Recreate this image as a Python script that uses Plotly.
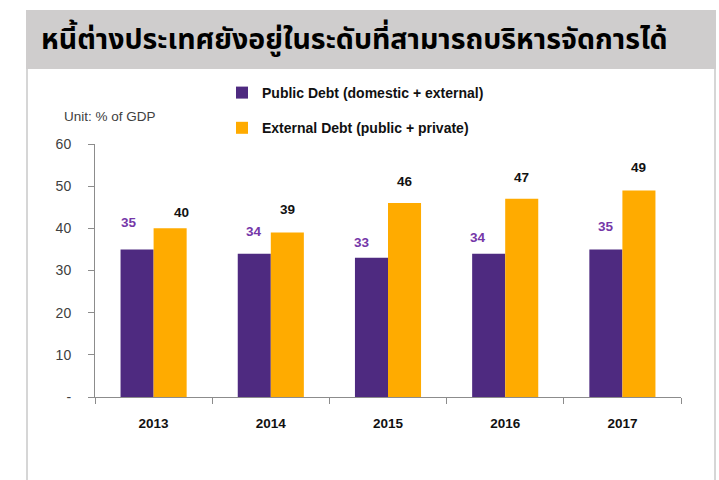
import plotly.graph_objects as go

# Debt levels, % of GDP
years = ["2013", "2014", "2015", "2016", "2017"]
public_debt = [35, 34, 33, 34, 35]
external_debt = [40, 39, 46, 47, 49]

y_tick_vals = [0, 10, 20, 30, 40, 50, 60]
y_tick_text = ["-", "10", "20", "30", "40", "50", "60"]

title_text = "หนี้ต่างประเทศยังอยู่ในระดับที่สามารถบริหารจัดการได้"
unit_text = "Unit: % of GDP"
public_name = "Public Debt (domestic + external)"
external_name = "External Debt (public + private)"

PURPLE = "#4E2A80"
ORANGE = "#FFAB00"
PURPLE_TEXT = "#7537A8"
AXIS = "#8C8C8C"
FONT = "Liberation Sans, Arial, sans-serif"

# pixel nudges for the value labels (x shift, y shift above bar top)
public_label_dx = [-8, 0, -9, -11, 0]
public_label_dy = [27, 22, 15, 16, 23]
external_label_dx = [11, 0, 0, 0, 0]
external_label_dy = [16, 23, 22, 21, 23]

W, H = 719, 480
L, R, T, B = 95, 38, 144, 83

fig = go.Figure()
fig.add_trace(go.Bar(x=years, y=public_debt, name=public_name,
                     marker=dict(color=PURPLE, line=dict(width=0)),
                     legendgroup="a", hoverinfo="x+y"))
fig.add_trace(go.Bar(x=years, y=external_debt, name=external_name,
                     marker=dict(color=ORANGE, line=dict(width=0)),
                     legendgroup="b", hoverinfo="x+y"))

pw = W - L - R
ph = H - T - B
bar_px = pw / len(years) * (1 - 0.436) / 2

annotations = []
for i in range(len(years)):
    # category index keeps the labels on the category positions
    annotations.append(dict(
        x=i, y=public_debt[i], xref="x", yref="y", text=f"<b>{public_debt[i]}</b>",
        showarrow=False, xshift=-bar_px / 2 + public_label_dx[i], yshift=public_label_dy[i],
        yanchor="middle", font=dict(family=FONT, size=13.5, color=PURPLE_TEXT)))
    annotations.append(dict(
        x=i, y=external_debt[i], xref="x", yref="y", text=f"<b>{external_debt[i]}</b>",
        showarrow=False, xshift=bar_px / 2 + external_label_dx[i], yshift=external_label_dy[i],
        yanchor="middle", font=dict(family=FONT, size=13.5, color="#111111")))


def px_x(p):
    return (p - L) / pw


def px_y(p):
    return (H - B - p) / ph


annotations.append(dict(
    x=px_x(62), y=px_y(117), xref="paper", yref="paper", text=unit_text,
    showarrow=False, xanchor="left", yanchor="middle",
    font=dict(family=FONT, size=13.5, color="#404040")))
annotations.append(dict(
    x=px_x(39), y=px_y(41), xref="paper", yref="paper", text=f"<b>{title_text}</b>",
    showarrow=False, xanchor="left", yanchor="middle",
    font=dict(family="Noto Sans Thai, Tahoma, Noto Sans, sans-serif", size=28.5, color="#000000")))

shapes = [
    dict(type="rect", xref="paper", yref="paper", x0=px_x(26), x1=px_x(716),
         y0=px_y(69), y1=px_y(10), fillcolor="#CFCDCD", line=dict(width=0), layer="below"),
    dict(type="line", xref="paper", yref="paper", x0=px_x(27), x1=px_x(27),
         y0=px_y(69), y1=px_y(481), line=dict(color="#D6D6D6", width=2)),
    dict(type="line", xref="paper", yref="paper", x0=px_x(715), x1=px_x(715),
         y0=px_y(69), y1=px_y(481), line=dict(color="#D6D6D6", width=2)),
]

fig.update_layout(
    width=W, height=H,
    margin=dict(l=L, r=R, t=T, b=B, pad=0),
    paper_bgcolor="white", plot_bgcolor="white",
    barmode="group", bargap=0.436, bargroupgap=0,
    font=dict(family=FONT, color="#404040"),
    showlegend=True,
    legend=dict(x=px_x(222), y=px_y(77), xanchor="left", yanchor="top",
                traceorder="grouped", tracegroupgap=14,
                font=dict(family=FONT, size=14, color="#111111", weight="bold"),
                bgcolor="rgba(0,0,0,0)", borderwidth=0),
    annotations=annotations,
    shapes=shapes,
    xaxis=dict(type="category", range=[-0.5, len(years) - 0.5],
               showline=True, linecolor=AXIS, linewidth=1,
               ticks="outside", tickson="boundaries", ticklen=6, tickcolor=AXIS,
               tickfont=dict(family=FONT, size=13.5, color="#111111", weight="bold"),
               ticklabelstandoff=14, showgrid=False, fixedrange=True),
    yaxis=dict(range=[0, 60], showline=True, linecolor=AXIS, linewidth=1,
               ticks="outside", ticklen=6, tickcolor=AXIS,
               tickvals=y_tick_vals, ticktext=y_tick_text,
               tickfont=dict(family=FONT, size=14, color="#404040"),
               ticklabelstandoff=14, showgrid=False, zeroline=False, fixedrange=True),
)

fig.write_html("out.html")
